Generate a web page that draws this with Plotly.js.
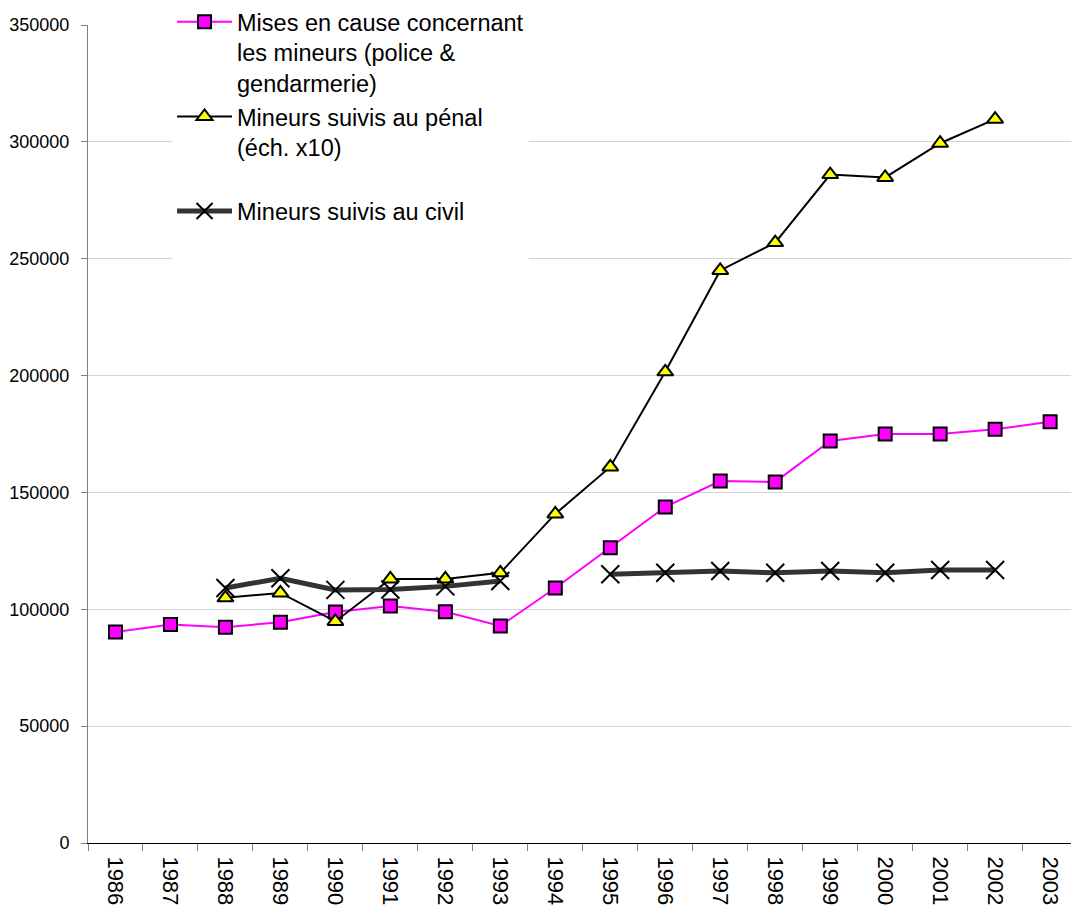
<!DOCTYPE html>
<html>
<head>
<meta charset="utf-8">
<script src="https://cdn.plot.ly/plotly-3.0.1.min.js"></script>
<style>html,body{margin:0;padding:0;background:#fff;}#chart{width:1071px;height:915px;}</style>
</head>
<body>
<div id="chart"></div>
<script>
const years = ["1986","1987","1988","1989","1990","1991","1992","1993","1994","1995","1996","1997","1998","1999","2000","2001","2002","2003"];
const misesEnCause = [90300,93500,92300,94500,98800,101400,98900,92900,109100,126300,143800,154900,154500,172000,175000,175000,177000,180200];
const penal = [null,null,104900,107000,94800,113000,113000,115600,140800,160900,201600,245000,256900,286000,284800,299400,309700,null];
const civil = [null,null,109100,113300,108300,108500,109800,112100,null,115000,115600,116400,115600,116400,115600,116800,116800,null];
const tickVals = [0,50000,100000,150000,200000,250000,300000,350000];

const FONT = "Liberation Sans, Arial, sans-serif";

const traces = [
  {
    x: years, y: misesEnCause, type: "scatter", mode: "lines+markers",
    name: "Mises en cause concernant<br>les mineurs (police &<br>gendarmerie)",
    line: {color: "#ff00ff", width: 2},
    marker: {symbol: "square", size: 13, color: "#ff00ff", line: {color: "#000000", width: 2}}
  },
  {
    x: years, y: penal, type: "scatter", mode: "lines+markers",
    name: "Mineurs suivis au pénal<br>(éch. x10)<br> ",
    line: {color: "#000000", width: 2},
    marker: {symbol: "triangle-up", size: 14, color: "#ffff00", line: {color: "#000000", width: 2}}
  },
  {
    x: years, y: civil, type: "scatter", mode: "lines+markers",
    name: "Mineurs suivis au civil<br> ",
    connectgaps: false,
    line: {color: "#333333", width: 5},
    marker: {symbol: "x-thin-open", size: 18, color: "#000000", line: {color: "#000000", width: 2}}
  }
];

const layout = {
  width: 1071, height: 915,
  margin: {l: 88, r: 0, t: 25, b: 72, pad: 0},
  paper_bgcolor: "#ffffff", plot_bgcolor: "#ffffff",
  font: {family: FONT, color: "#000000"},
  showlegend: true,
  legend: {
    x: 0.0855, xanchor: "left", y: 1.031, yanchor: "top",
    bgcolor: "#ffffff", borderwidth: 0,
    font: {family: FONT, size: 23.5, color: "#000000"},
    valign: "top", itemwidth: 55, tracegroupgap: 0,
    traceorder: "normal"
  },
  xaxis: {
    type: "category",
    range: [-0.5, 17.38],
    tickson: "boundaries",
    ticks: "outside", ticklen: 7, tickcolor: "#808080", tickwidth: 1,
    tickangle: 90,
    tickfont: {family: FONT, size: 22, color: "#000000"},
    showline: true, linecolor: "#000000", linewidth: 1,
    showgrid: false, zeroline: false,
    ticklabelstandoff: 8
  },
  yaxis: {
    range: [0, 350000],
    tickvals: tickVals,
    ticktext: tickVals.map(String),
    ticks: "outside", ticklen: 6, tickcolor: "#808080", tickwidth: 1,
    tickfont: {family: FONT, size: 18, color: "#000000"},
    showline: true, linecolor: "#808080", linewidth: 1,
    showgrid: true, gridcolor: "#d4d4d4", gridwidth: 1,
    zeroline: false,
    ticklabelstandoff: 8
  }
};

Plotly.newPlot("chart", traces, layout, {displayModeBar: false, staticPlot: true});
</script>
</body>
</html>
